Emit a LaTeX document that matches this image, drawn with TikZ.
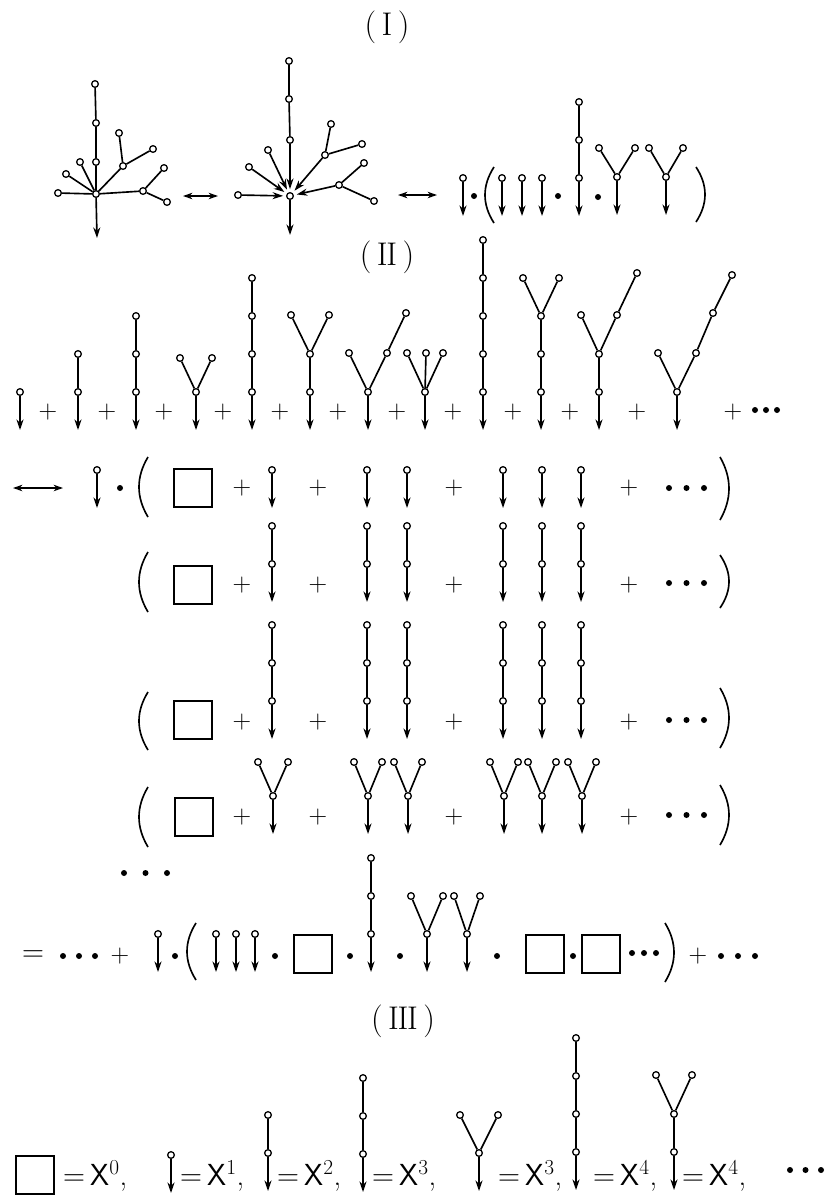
\documentclass[tikz,border=0pt]{standalone}
\usepackage{tikz}
\usetikzlibrary{arrows.meta,positioning}

\tikzset{
  vtx/.style={circle,draw,fill=white,line width=1.1pt,inner sep=0pt,minimum size=0.2cm},
  edg/.style={line width=1.4pt},
  arr/.style={edg,-{Stealth[length=9pt,width=6pt]}},
  inarr/.style={arr,shorten >=2.5pt},
  dblarr/.style={edg,{Stealth[length=8pt,width=5.5pt]}-{Stealth[length=8pt,width=5.5pt]}},
  boxn/.style={draw,line width=1.4pt,minimum width=1.13cm,minimum height=1.15cm,inner sep=0pt},
  dotn/.style={circle,fill,inner sep=0pt,minimum size=0.18cm},
  plus/.style={font=\fontsize{22}{26}\selectfont,inner sep=0pt},
  eqtxt/.style={font=\fontsize{26}{30}\selectfont,inner sep=0pt},
  title/.style={font=\fontsize{28}{34}\selectfont,inner sep=0pt}
}
\def\vgap{38}
\def\vtip{38}

% chain of #4 vertices, root #1-1 at (#2,#3), arrow leaves the root downwards
\newcommand{\chain}[4]{%
  \node[vtx] (#1-1) at (#2,#3) {};
  \ifnum#4>1
    \foreach \k [remember=\k as \j (initially 1)] in {2,...,#4}
      {\node[vtx] (#1-\k) at (#2,{#3-(\k-1)*\vgap}) {};
       \draw[edg] (#1-\j) -- (#1-\k);}
  \fi
  \coordinate (#1-o) at (#2,{#3+\vtip});
  \draw[arr] (#1-1) -- (#1-o);
}
% Y tree: stem of #4 vertices, two leaves spread #5, rise #6
\newcommand{\ytree}[6]{%
  \chain{#1}{#2}{#3}{#4}
  \node[vtx] (#1-l) at ({#2-#5},{#3-(#4-1)*\vgap-#6}) {};
  \node[vtx] (#1-r) at ({#2+#5},{#3-(#4-1)*\vgap-#6}) {};
  \draw[edg] (#1-l) -- (#1-#4) -- (#1-r);
}
% three dots
\newcommand{\tridots}[4]{%
  \node[dotn] (#1-1) at (#2,#3) {};
  \node[dotn] (#1-2) at ({#2+#4},#3) {};
  \node[dotn] (#1-3) at ({#2+2*#4},#3) {};
}
% parentheses: x of the bulge, top, bottom
\newcommand{\lpar}[3]{\draw[edg] ({#1+9},#2) .. controls ({#1-3},{#2+(#3-#2)/3}) and ({#1-3},{#3-(#3-#2)/3}) .. ({#1+9},#3);}
\newcommand{\rpar}[3]{\draw[edg] ({#1-9},#2) .. controls ({#1+3},{#2+(#3-#2)/3}) and ({#1+3},{#3-(#3-#2)/3}) .. ({#1-9},#3);}

\begin{document}
\begin{tikzpicture}[x=0.03cm,y=-0.03cm]
\useasboundingbox (0,0) rectangle (826,1196);
%% (I)
\node[title] (t1) at (387,27) {(\,I\,)};
%% left tree
\node[vtx] (ka) at (96,194) {};
\node[vtx] (ka1) at (96,162) {};
\node[vtx] (ka2) at (96,123) {};
\node[vtx] (ka3) at (95,84) {};
\node[vtx] (ka4) at (58,193) {};
\node[vtx] (ka5) at (66,174) {};
\node[vtx] (ka6) at (80,162) {};
\node[vtx] (ka7) at (123,166) {};
\node[vtx] (ka8) at (119,133) {};
\node[vtx] (ka9) at (153,149) {};
\node[vtx] (ka10) at (143,191) {};
\node[vtx] (ka11) at (164,168) {};
\node[vtx] (ka12) at (167,202) {};
\coordinate (ka-o) at (97,238);
\draw[edg] (ka3) -- (ka2) -- (ka1) -- (ka);
\draw[edg] (ka4) -- (ka) (ka5) -- (ka) (ka6) -- (ka) (ka7) -- (ka) (ka10) -- (ka);
\draw[edg] (ka8) -- (ka7) -- (ka9) (ka11) -- (ka10) -- (ka12);
\draw[arr] (ka) -- (ka-o);
\coordinate (da1) at (183,196);
\coordinate (da2) at (218,196);
\draw[dblarr] (da1) -- (da2);
%% middle tree, arrows into the root
\node[vtx] (kb) at (290,196) {};
\node[vtx] (kb1) at (290,140) {};
\node[vtx] (kb2) at (289,99) {};
\node[vtx] (kb3) at (289,61) {};
\node[vtx] (kb4) at (268,150) {};
\node[vtx] (kb5) at (249,167) {};
\node[vtx] (kb6) at (238,195) {};
\node[vtx] (kb7) at (325,155) {};
\node[vtx] (kb8) at (331,124) {};
\node[vtx] (kb9) at (362,144) {};
\node[vtx] (kb10) at (339,185) {};
\node[vtx] (kb11) at (364,163) {};
\node[vtx] (kb12) at (374,201) {};
\coordinate (kb-o) at (290,235);
\draw[edg] (kb3) -- (kb2) -- (kb1);
\draw[edg] (kb8) -- (kb7) -- (kb9) (kb11) -- (kb10) -- (kb12);
\draw[inarr] (kb1) -- (kb);
\draw[inarr] (kb4) -- (kb);
\draw[inarr] (kb5) -- (kb);
\draw[inarr] (kb6) -- (kb);
\draw[inarr] (kb7) -- (kb);
\draw[inarr] (kb10) -- (kb);
\draw[arr] (kb) -- (kb-o);
\coordinate (da3) at (398,195);
\coordinate (da4) at (437,195);
\draw[dblarr] (da3) -- (da4);
%% product form
\chain{ia}{463}{178}{1}
\node[dotn] (ma1) at (474,196) {};
\lpar{485}{167}{223}
\foreach \cx [count=\i] in {502,522,542} {\chain{ib\i}{\cx}{178}{1}}
\node[dotn] (ma2) at (558,196) {};
\chain{ic}{579}{178}{3}
\node[dotn] (ma3) at (598,197) {};
\ytree{id}{617}{177}{1}{18}{29}
\ytree{ie}{666}{177}{1}{17}{29}
\rpar{705}{167}{222}

%% (II)
\node[title] (t2) at (387,257) {(\,I\kern-.04em I\,)};
%% sum of all trees
\chain{ra}{20}{392}{1}
\chain{rb}{78}{392}{2}
\chain{rc}{136}{392}{3}
\ytree{rd}{196}{392}{1}{16}{34}
\chain{re}{252}{392}{4}
\ytree{rf}{310}{392}{2}{19}{39}
\ytree{rg}{368}{392}{1}{19}{39}
\node[vtx] (rg-r2) at (406,313) {};
\draw[edg] (rg-r) -- (rg-r2);
\ytree{rh}{425}{392}{1}{18}{39}
\node[vtx] (rh-m) at (426,353) {};
\draw[edg] (rh-m) -- (rh-1);
\chain{ri}{483}{392}{5}
\ytree{rj}{541}{392}{3}{18}{38}
\ytree{rk}{599}{392}{2}{18}{39}
\node[vtx] (rk-r2) at (637,273) {};
\draw[edg] (rk-r) -- (rk-r2);
\ytree{rl}{677}{392}{1}{19}{39}
\node[vtx] (rl-r2) at (713,313) {};
\node[vtx] (rl-r3) at (732,275) {};
\draw[edg] (rl-r) -- (rl-r2) -- (rl-r3);
\foreach \px [count=\i] in {48,107,164,223,280,338,397,453,513,570,637,733}
  \node[plus] (pa\i) at (\px,412) {+};
\tridots{ea}{755}{410}{11}

%% row 1: single vertices
\coordinate (da5) at (13,488);
\coordinate (da6) at (63,488);
\draw[dblarr] (da5) -- (da6);
\chain{sa}{97}{470}{1}
\node[dotn] (mb1) at (120,488) {};
\lpar{139}{457}{517}
\node[boxn] (bx1) at (193,488) {};
\chain{sb}{272}{470}{1}
\foreach \cx [count=\i] in {367,407} {\chain{sc\i}{\cx}{470}{1}}
\foreach \cx [count=\i] in {503,542,581} {\chain{sd\i}{\cx}{470}{1}}
\foreach \px [count=\i] in {242,318,454,629}
  \node[plus] (pb\i) at (\px,488) {+};
\tridots{eb}{669}{488}{17.5}
\rpar{729}{457}{520}
%% row 2: chains of two
\lpar{139}{552}{612}
\node[boxn] (bx2) at (193,585) {};
\chain{qa}{272}{564}{2}
\foreach \cx [count=\i] in {367,407} {\chain{qb\i}{\cx}{564}{2}}
\foreach \cx [count=\i] in {503,542,581} {\chain{qc\i}{\cx}{564}{2}}
\foreach \px [count=\i] in {242,318,454,629}
  \node[plus] (pc\i) at (\px,585) {+};
\tridots{ec}{669}{583}{17.5}
\rpar{729}{555}{608}
%% row 3: chains of three
\lpar{139}{692}{750}
\node[boxn] (bx3) at (193,720) {};
\chain{wa}{272}{701}{3}
\foreach \cx [count=\i] in {367,407} {\chain{wb\i}{\cx}{701}{3}}
\foreach \cx [count=\i] in {503,542,581} {\chain{wc\i}{\cx}{701}{3}}
\foreach \px [count=\i] in {242,318,454,629}
  \node[plus] (pd\i) at (\px,722) {+};
\tridots{ed}{669}{720}{17.5}
\rpar{729}{688}{748}
%% row 4: cherries
\lpar{139}{787}{847}
\node[boxn] (bx4) at (194,817) {};
\ytree{ya}{273}{796}{1}{15}{34}
\foreach \cx [count=\i] in {368,408} {\ytree{yb\i}{\cx}{796}{1}{14}{34}}
\foreach \cx [count=\i] in {504,542,582} {\ytree{yc\i}{\cx}{796}{1}{14}{34}}
\foreach \px [count=\i] in {242,318,454,629}
  \node[plus] (pe\i) at (\px,817) {+};
\tridots{ee}{669}{815}{17.5}
\rpar{729}{785}{845}
\tridots{ef}{124}{873}{21.5}

%% one term of the product
\node[eqtxt] (eq0) at (33,956) {=};
\tridots{eg}{63}{956}{16}
\node[plus] (pf1) at (120,956) {+};
\chain{ua}{158}{934}{1}
\node[dotn] (mc1) at (175,956) {};
\lpar{187}{923}{980}
\foreach \cx [count=\i] in {216,236,255} {\chain{ub\i}{\cx}{934}{1}}
\node[dotn] (mc2) at (275,956) {};
\node[boxn] (bx5) at (313,954) {};
\node[dotn] (mc3) at (350,956) {};
\chain{uc}{371}{934}{3}
\node[dotn] (mc4) at (400,956) {};
\ytree{ud}{427}{934}{1}{16}{38}
\ytree{ue}{467}{934}{1}{13}{38}
\node[dotn] (mc5) at (497,956) {};
\node[boxn] (bx6) at (545,954) {};
\node[dotn] (mc6) at (573,956) {};
\node[boxn] (bx7) at (601,954) {};
\tridots{eh}{632}{953}{12}
\rpar{674}{923}{982}
\node[plus] (pf2) at (698,956) {+};
\tridots{ei}{721}{956}{17}

%% (III)
\node[title] (t3) at (403,1021) {(\,I\kern-.04em I\kern-.04em I\,)};
\node[boxn] (bx8) at (35,1175) {};
\node[eqtxt,anchor=base west] (x0) at (63,1185) {=\,\textsf{X}\textsuperscript{0},};
\chain{va}{171}{1155}{1}
\node[eqtxt,anchor=base west] (x1) at (180,1185) {=\,\textsf{X}\textsuperscript{1},};
\chain{vb}{268}{1153}{2}
\node[eqtxt,anchor=base west] (x2) at (277,1185) {=\,\textsf{X}\textsuperscript{2},};
\chain{vc}{363}{1154}{3}
\node[eqtxt,anchor=base west] (x3) at (372,1185) {=\,\textsf{X}\textsuperscript{3},};
\ytree{vd}{479}{1153}{1}{19}{38}
\node[eqtxt,anchor=base west] (x4) at (498,1185) {=\,\textsf{X}\textsuperscript{3},};
\chain{ve}{576}{1152}{4}
\node[eqtxt,anchor=base west] (x5) at (593,1185) {=\,\textsf{X}\textsuperscript{4},};
\ytree{vf}{674}{1152}{2}{18}{39}
\node[eqtxt,anchor=base west] (x6) at (682,1185) {=\,\textsf{X}\textsuperscript{4},};
\tridots{ej}{790}{1170}{15.5}
\end{tikzpicture}
\end{document}
